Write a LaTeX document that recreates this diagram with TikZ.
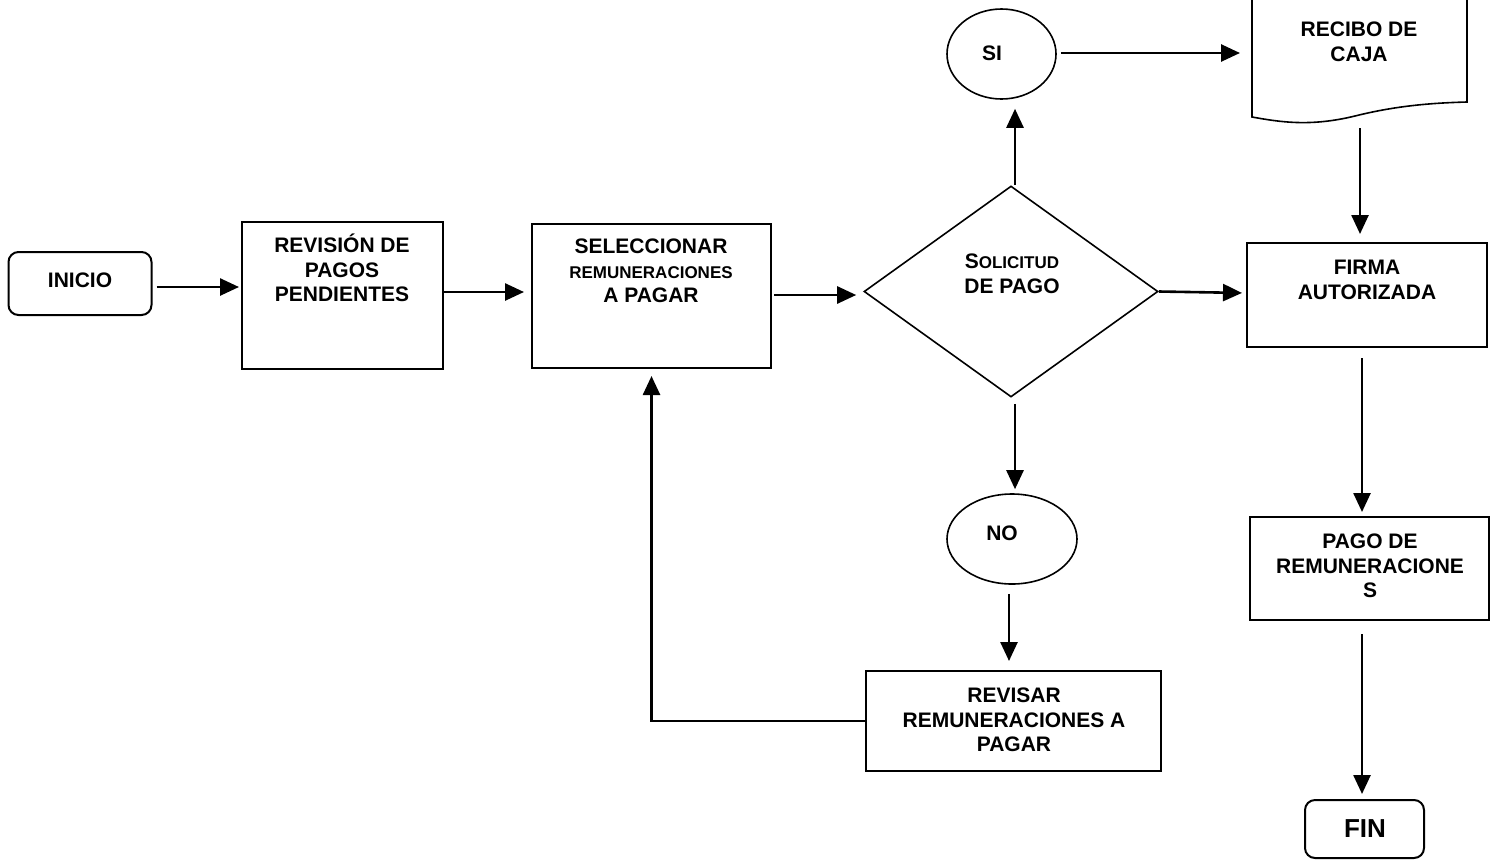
\documentclass[tikz,border=0pt]{standalone}
\usepackage{fontspec}
\setmainfont{Liberation Sans}
\usetikzlibrary{shapes.geometric,arrows.meta}
\begin{document}
\begin{tikzpicture}[x=1pt,y=-1pt,
  box/.style={draw,line width=2pt,inner sep=0pt},
  rbox/.style={box,rounded corners=10pt},
  oval/.style={draw,line width=1.6pt,ellipse,inner sep=0pt},
  dia/.style={draw,line width=1.6pt,diamond,inner sep=0pt},
  txt/.style={align=center,inner sep=0pt,font=\fontsize{21}{24.5}\selectfont\bfseries},
  arr/.style={line width=2.6pt,-{Triangle[length=19pt,width=17pt]}},
  ln/.style={line width=2.6pt}]
\useasboundingbox (0,0) rectangle (1498,860);
% nodes
\node[rbox,minimum width=143pt,minimum height=63pt] (ini) at (80,283.5) {};
\node[txt] (iniT) at (80,280) {INICIO};
\node[box,minimum width=201pt,minimum height=147pt] (rev) at (342.5,295.5) {};
\node[txt] (revT) at (342,268) {REVISIÓN DE\\PAGOS\\PENDIENTES};
\node[box,minimum width=239pt,minimum height=144pt] (sel) at (651.5,296) {};
\node[txt] (selT) at (651,271) {SELECCIONAR\\{\fontsize{17}{24.5}\selectfont REMUNERACIONES}\\A PAGAR};
\node[dia,minimum width=294pt,minimum height=211pt] (dia) at (1011,291.5) {};
\node[txt] (diaT) at (1012,274) {S{\fontsize{17}{24.5}\selectfont OLICITUD}\\DE PAGO};
\node[oval,minimum width=109pt,minimum height=90pt] (si) at (1001.5,54) {};
\node[txt] (siT) at (992,53) {SI};
% document shape RECIBO DE CAJA
\draw[line width=1.6pt] (1252,0) -- (1252,117)
  .. controls (1280,122) and (1310,127) .. (1355,116)
  .. controls (1395,106) and (1430,103) .. (1467,102) -- (1467,0);
\coordinate (recW) at (1252,53);
\coordinate (recS) at (1360,122);
\node[txt] (recT) at (1359,42) {RECIBO DE\\CAJA};
\node[box,minimum width=240pt,minimum height=104pt] (fir) at (1367,295) {};
\node[txt] (firT) at (1367,280) {FIRMA\\AUTORIZADA};
\node[box,minimum width=239pt,minimum height=103pt] (pag) at (1369.5,568.5) {};
\node[txt] (pagT) at (1370,566) {PAGO DE\\REMUNERACIONE\\S};
\node[rbox,minimum width=119pt,minimum height=58pt] (fin) at (1364.5,829) {};
\node[txt,font=\fontsize{26}{30}\selectfont\bfseries] (finT) at (1365,829) {FIN};
\node[oval,minimum width=130pt,minimum height=90pt] (no) at (1012,539) {};
\node[txt] (noT) at (1002,533) {NO};
\node[box,minimum width=295pt,minimum height=100pt] (rvs) at (1013.5,721) {};
\node[txt] (rvsT) at (1014,720) {REVISAR\\REMUNERACIONES A\\PAGAR};
% connectors
\draw[arr,shorten <=4pt,shorten >=2pt] ([yshift=-3.5pt]ini.east) -- ([yshift=-3.5pt]ini.east -| rev.west);
\draw[arr,shorten >=7pt] ([yshift=3.5pt]rev.east) -- ([yshift=3.5pt]rev.east -| sel.west);
\draw[arr,shorten <=2pt,shorten >=7pt] ([yshift=1pt]sel.east) -- ([yshift=1pt]sel.east -| dia.west);
\draw[arr,shorten >=9pt] ([xshift=4pt]dia.north) -- ([xshift=4pt]dia.north |- si.south);
\draw[arr,shorten <=4pt,shorten >=12pt] ([yshift=1pt]si.east) -- ([yshift=1pt]si.east -| recW);
\draw[arr,shorten <=6pt,shorten >=8pt] (recS) -- (recS |- fir.north);
\draw[arr,shorten >=4pt] (dia.east) -- ([yshift=2pt]fir.west);
\draw[arr,shorten <=10pt,shorten >=4pt] ([xshift=-5pt]fir.south) -- ([xshift=-5pt]fir.south |- pag.north);
\draw[arr,shorten <=13pt,shorten >=5pt] ([xshift=-7.5pt]pag.south) -- ([xshift=-7.5pt]pag.south |- fin.north);
\draw[arr,shorten <=6pt,shorten >=4pt] ([xshift=4pt]dia.south) -- ([xshift=4pt]dia.south |- no.north);
\draw[arr,shorten <=9pt,shorten >=9pt] ([xshift=-3pt]no.south) -- ([xshift=-3pt]no.south |- rvs.north);
\draw[arr,shorten >=7pt] (rvs.west) -- (rvs.west -| sel.south) -- (sel.south);
\end{tikzpicture}
\end{document}
